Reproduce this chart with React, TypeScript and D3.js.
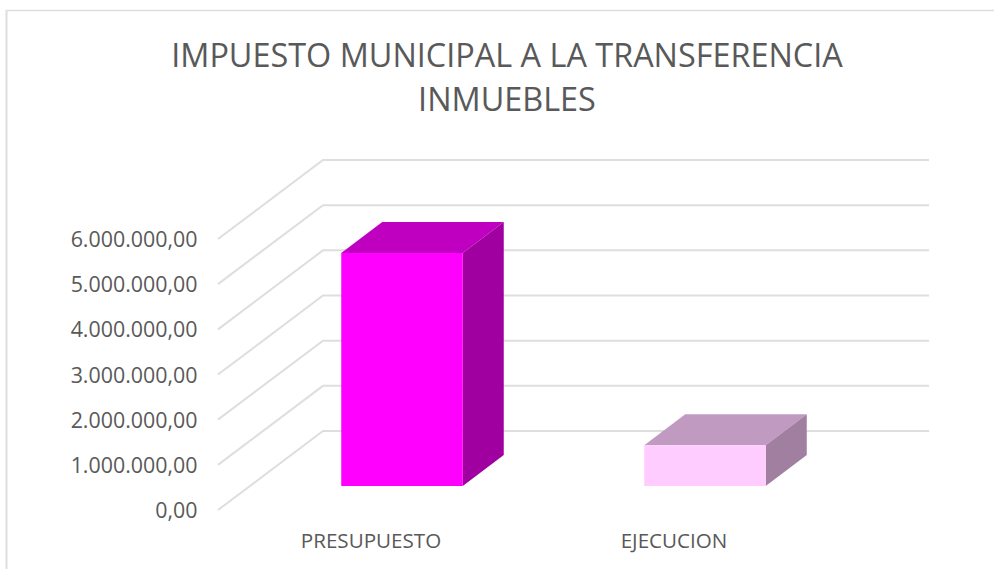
import React from 'react';
import * as d3 from 'd3';

const categories = ['PRESUPUESTO', 'EJECUCION'];
const values = [5160000, 900000];
const yTicks = [0, 1000000, 2000000, 3000000, 4000000, 5000000, 6000000];
const titleLines = ['IMPUESTO MUNICIPAL A LA TRANSFERENCIA', 'INMUEBLES'];

const width = 994;
const height = 569;
const font = '"Open Sans", sans-serif';
const textColor = '#595959';
const gridColor = '#dedede';

// front plane of the 3d box
const plotLeft = 218;
const plotRight = 824;
const plotBottom = 510;
const plotTop = 239;
// how far the back wall is pushed from the front plane
const wallDx = 105;
const wallDy = -79;
// the bars sit in the middle of the floor depth
const barInsetDx = 32.5;
const barInsetDy = -24;
const barDepthDx = 41;
const barDepthDy = -31;

const barColors = [
  { front: '#ff00ff', top: '#c000c0', side: '#a000a0' },
  { front: '#ffccff', top: '#c09ac0', side: '#a07fa0' },
];

const x = d3.scaleBand<string>().domain(categories).range([plotLeft, plotRight]).paddingInner(0);
const y = d3.scaleLinear().domain([0, 6000000]).range([plotBottom, plotTop]);

const poly = d3.line<[number, number]>();
const formatTick = (d: number) => d3.format(',.2f')(d).replace(/,/g, '#').replace('.', ',').replace(/#/g, '.');

export default function App() {
  const barW = x.bandwidth() * 0.401;

  return (
    <svg width={width} height={height} style={{ position: 'absolute', left: 0, top: 0, background: '#fff' }}>
      {/* chart frame, only top and left show in the crop */}
      <line x1={6.5} x2={width} y1={10.5} y2={10.5} stroke={gridColor} strokeWidth={1.5} />
      <line x1={6.5} x2={6.5} y1={10} y2={height} stroke={gridColor} strokeWidth={2} />

      {titleLines.map((t, i) => (
        <text key={t} x={507} y={67 + i * 44} textAnchor="middle" fontFamily={font} fontSize={32.4} fill={textColor}>
          {t}
        </text>
      ))}

      {yTicks.map(t => {
        const y0 = y(t);
        return (
          <g key={t}>
            <path
              d={poly([[plotLeft, y0], [plotLeft + wallDx, y0 + wallDy], [plotRight + wallDx, y0 + wallDy]]) || ''}
              fill="none"
              stroke={gridColor}
              strokeWidth={2}
            />
            <text x={197.5} y={y0 + 8} textAnchor="end" fontFamily={font} fontSize={21.4} fill={textColor}>
              {formatTick(t)}
            </text>
          </g>
        );
      })}

      {categories.map((c, i) => {
        const x0 = (x(c) as number) + x.bandwidth() / 2 + barInsetDx - barW / 2;
        const x1 = x0 + barW;
        const yb = y(0) + barInsetDy;
        const yt = y(values[i]) + barInsetDy;
        const col = barColors[i];
        return (
          <g key={c}>
            <path
              d={poly([[x0, yt], [x1, yt], [x1 + barDepthDx, yt + barDepthDy], [x0 + barDepthDx, yt + barDepthDy]]) + 'Z'}
              fill={col.top}
            />
            <path
              d={poly([[x1, yt], [x1 + barDepthDx, yt + barDepthDy], [x1 + barDepthDx, yb + barDepthDy], [x1, yb]]) + 'Z'}
              fill={col.side}
            />
            <rect x={x0} y={yt} width={barW} height={yb - yt} fill={col.front} />
          </g>
        );
      })}

      {categories.map(c => (
        <text
          key={c}
          x={(x(c) as number) + x.bandwidth() / 2 + 1.5}
          y={547.5}
          textAnchor="middle"
          fontFamily={font}
          fontSize={20.6}
          fill={textColor}
        >
          {c}
        </text>
      ))}
    </svg>
  );
}
